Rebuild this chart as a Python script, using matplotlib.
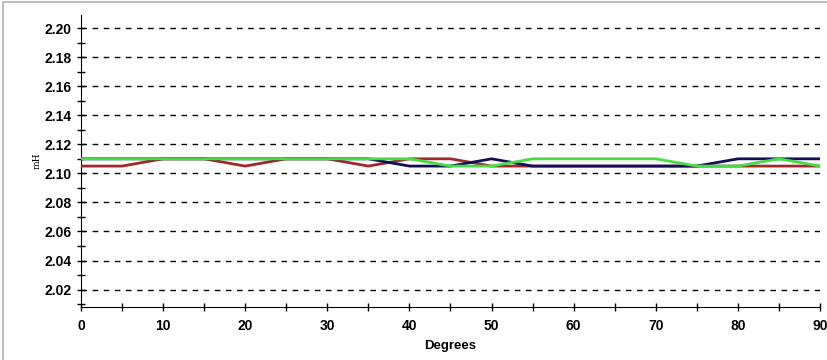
import matplotlib.pyplot as plt
from matplotlib.ticker import MultipleLocator
from matplotlib.patches import Rectangle

plt.rcParams["font.family"] = ["Liberation Sans", "DejaVu Sans"]

# угол, градусы
degrees = [0, 5, 10, 15, 20, 25, 30, 35, 40, 45, 50, 55, 60, 65, 70, 75, 80, 85, 90]

# индуктивность, мГн
red_mh = [2.105, 2.105, 2.11, 2.11, 2.105, 2.11, 2.11, 2.105, 2.11, 2.11,
          2.105, 2.105, 2.105, 2.105, 2.105, 2.105, 2.105, 2.105, 2.105]
navy_mh = [2.11, 2.11, 2.11, 2.11, 2.11, 2.11, 2.11, 2.11, 2.105, 2.105,
           2.11, 2.105, 2.105, 2.105, 2.105, 2.105, 2.11, 2.11, 2.11]
green_mh = [2.11, 2.11, 2.11, 2.11, 2.11, 2.11, 2.11, 2.11, 2.11, 2.105,
            2.105, 2.11, 2.11, 2.11, 2.11, 2.105, 2.105, 2.11, 2.105]

grid_levels = [2.02, 2.04, 2.06, 2.08, 2.10, 2.12, 2.14, 2.16, 2.18, 2.20]

fig = plt.figure(figsize=(8.28, 3.6), dpi=100)
ax = fig.add_axes([81 / 828, 53 / 360, 739 / 828, 292 / 360])

# серая рамка вокруг картинки (видны только верх и левый край)
fig.patches.append(Rectangle((3 / 828, -0.1), 1.2, 358 / 360 + 0.1,
                             transform=fig.transFigure, fill=False,
                             edgecolor="#b0b0b0", linewidth=1.2))

for lvl in grid_levels:
    ax.axhline(lvl, color="black", linestyle=(0, (4, 4)), linewidth=1.0, zorder=1)

ax.plot(degrees, red_mh, color="#a02828", linewidth=2, zorder=3)
ax.plot(degrees, navy_mh, color="#10105a", linewidth=2, zorder=4)
ax.plot(degrees, green_mh, color="#44dd44", linewidth=2, zorder=5)

ax.set_xlim(0, 90)
ax.set_ylim(2.008, 2.209)

ax.spines["top"].set_visible(False)
ax.spines["right"].set_visible(False)

ax.xaxis.set_minor_locator(MultipleLocator(5))
ax.yaxis.set_minor_locator(MultipleLocator(0.01))
ax.set_yticks(grid_levels)

ax.tick_params(which="both", direction="inout", length=6, width=1)
ax.tick_params(axis="both", labelsize=10)
ax.tick_params(axis="x", pad=6)
ax.set_yticklabels([f"{v:.2f}" for v in grid_levels], fontweight="bold")
ax.set_xticks(degrees[::2])
ax.set_xticklabels([str(d) for d in degrees[::2]], fontweight="bold")

ax.set_xlabel("Degrees", fontsize=9.5, fontweight="bold", labelpad=5)
ax.set_ylabel("mH", fontsize=6.5, family="DejaVu Serif", labelpad=2)

fig.savefig("out.png", dpi=100)
